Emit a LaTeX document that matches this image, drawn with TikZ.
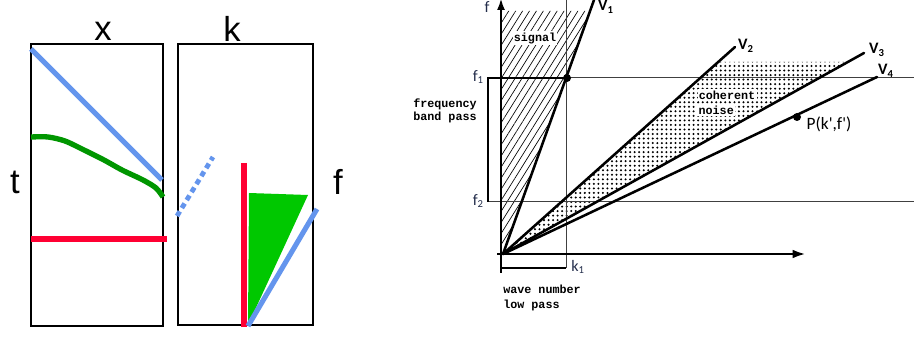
\documentclass[tikz,border=0pt]{standalone}
\usepackage{fontspec}
\setmainfont{Liberation Sans}
\newfontfamily\monof{Liberation Mono}
\newfontfamily\calf{Carlito}
\usetikzlibrary{patterns.meta,arrows.meta}
\definecolor{myblue}{RGB}{100,149,237}
\definecolor{mygreen}{RGB}{0,200,0}
\definecolor{mydgreen}{RGB}{0,150,0}
\definecolor{myred}{RGB}{255,0,51}
\definecolor{lblcol}{RGB}{35,45,75}
\tikzset{
  panel/.style={draw=black,line width=0.8pt},
  biglbl/.style={font=\fontsize{26}{28}\selectfont,inner sep=0pt},
  thickblue/.style={draw=myblue,line width=3.8pt},
  thickred/.style={draw=myred,line width=4.5pt},
  monotxt/.style={font=\monof\bfseries\fontsize{8.8}{10}\selectfont,inner sep=0pt},
  onfill/.style={fill=white,inner sep=1pt},
  vlbl/.style={font=\calf\bfseries\fontsize{12}{14}\selectfont,inner sep=0pt},
  axlbl/.style={font=\calf\fontsize{12}{14}\selectfont,text=lblcol,inner sep=0pt},
  vline/.style={line width=1.9pt,line cap=round},
  thinline/.style={draw=black!75,line width=0.75pt},
  bracket/.style={line width=1.6pt},
  axis/.style={line width=2.2pt},
  pt/.style={circle,fill=black,inner sep=0pt,minimum size=6pt}
}
\begin{document}
\begin{tikzpicture}[x=0.75pt,y=-0.75pt]
\useasboundingbox (0,0) rectangle (914,338);
% ---------- left panels ----------
\draw[panel] (31,44) rectangle (163,326);
\draw[panel] (178,44) rectangle (313,325);
\node[biglbl] (lx) at (103,31) {x};
\node[biglbl] (lk) at (232,29) {k};
\node[biglbl] (lt) at (15,182) {t};
\node[biglbl] (lf) at (338,182) {f};
% x-t panel
\coordinate (b1a) at (31,49); \coordinate (b1b) at (162,180);
\draw[thickblue] (b1a) -- (b1b);
\draw[draw=mydgreen,line width=4pt] plot[smooth] coordinates {(31,137) (48,137) (65,141) (84,150) (104,160) (122,170) (143,180) (156,188) (163,197)};
\coordinate (r1a) at (31,239); \coordinate (r1b) at (167,239);
\draw[thickred] (r1a) -- (r1b);
% between
\coordinate (da) at (177,216); \coordinate (db) at (213,157);
\draw[draw=myblue,line width=3.6pt,dash pattern=on 4pt off 3pt] (da) -- (db);
% f-k panel
\coordinate (gA) at (249,193); \coordinate (gB) at (308,195); \coordinate (gC) at (248,325);
\fill[mygreen] (gA) -- (gB) -- (gC) -- cycle;
\coordinate (r2a) at (244,163); \coordinate (r2b) at (244,327);
\draw[thickred] (r2a) -- (r2b);
\coordinate (b2a) at (248,326); \coordinate (b2b) at (317,209);
\draw[thickblue] (b2a) -- (b2b);
% ---------- right panel ----------
\coordinate (O) at (503,254);
\coordinate (V1e) at (594,0);
\coordinate (V2e) at (735,47);
\coordinate (V3e) at (864,53);
\coordinate (V4e) at (877,77);
% hatched signal region
\fill[pattern={Lines[angle=58,distance=4.4pt,line width=0.5pt]}] (O) -- (501,254) -- (501,11) -- (590,11) -- cycle;
% dotted coherent noise region
\fill[pattern={Dots[radius=0.85pt,distance=3.4pt]}] (O) -- (718,62) -- (842,62) -- (848,62) -- cycle;
% thin grid lines
\draw[thinline] (487,78) -- (914,78);
\draw[thinline] (487,202) -- (914,202);
\draw[thinline] (566,0) -- (566,268);
% brackets
\draw[bracket] (487,78) -- (567,78);
\draw[bracket] (488,78) -- (488,202);
\draw[bracket] (501,268) -- (566,268);
% axes
\draw[axis,-{Latex[length=9pt,width=6pt]}] (501,273) -- (501,-2);
\draw[axis,-{Latex[length=10pt,width=6.5pt]}] (497,254) -- (806,254);
% velocity lines
\draw[vline] (O) -- (V1e);
\draw[vline] (O) -- (V2e);
\draw[vline] (O) -- (V3e);
\draw[vline] (O) -- (V4e);
% points
\node[pt] (p1) at (567,78) {};
\node[pt] (pP) at (797,117) {};
% labels
\node[axlbl] (ftop) at (487,7) {f};
\node[vlbl] (v1) at (606,7) {V\textsubscript{1}};
\node[vlbl] (v2) at (746,46) {V\textsubscript{2}};
\node[vlbl] (v3) at (877,50) {V\textsubscript{3}};
\node[vlbl] (v4) at (886,71) {V\textsubscript{4}};
\node[font=\calf\fontsize{13}{15}\selectfont,inner sep=0pt] (plbl) at (829,124) {P(k',f')};
\node[axlbl,anchor=east] (f1) at (484,77) {f\textsubscript{1}};
\node[axlbl,anchor=east] (f2) at (484,201) {f\textsubscript{2}};
\node[axlbl,anchor=west] (k1) at (571,267) {k\textsubscript{1}};
\node[monotxt,onfill] (sig) at (535,38) {signal};
\node[monotxt,onfill] (coh) at (727,95) {coherent};
\node[monotxt,onfill,anchor=west] (noi) at (697,110) {noise};
\node[monotxt,anchor=west] (fr1) at (413,104) {frequency};
\node[monotxt,anchor=west] (fr2) at (413,117) {band pass};
\node[monotxt,anchor=west] (wn1) at (503,289) {wave number};
\node[monotxt,anchor=west] (wn2) at (503,305) {low pass};
\end{tikzpicture}
\end{document}
